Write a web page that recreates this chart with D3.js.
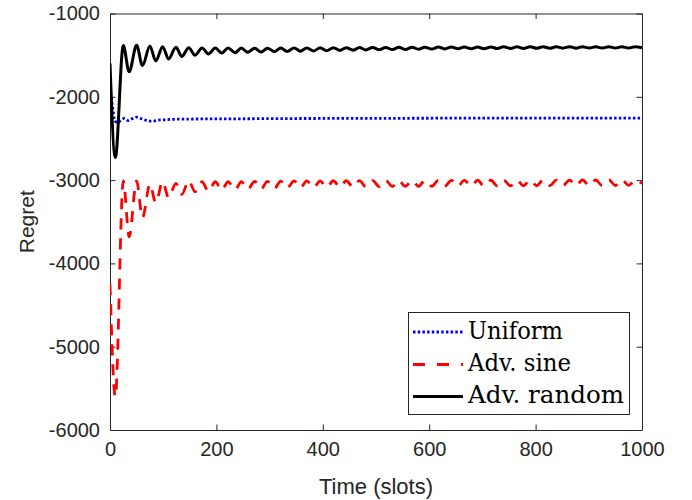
<!DOCTYPE html>
<html>
<head>
<meta charset="utf-8">
<script src="https://cdn.jsdelivr.net/npm/d3@7"></script>
<style>
  body { margin: 0; background: #fff; }
  svg { display: block; }
  .tick text { font-family: "Liberation Sans", Arial, sans-serif; }
</style>
</head>
<body>
<svg id="chart" width="692" height="500"></svg>
<script>
// time slots of the peaks / troughs of the oscillating curves
var slots = [0, 10, 25, 36, 50, 61, 75, 86, 99, 110, 124, 135, 148, 160, 173, 185, 198, 210, 222, 235,
    247, 259, 272, 284, 296, 309, 321, 333, 346, 358, 370, 383, 395, 407, 420, 432, 444, 457, 469, 481,
    494, 506, 518, 531, 543, 555, 568, 580, 592, 605, 617, 629, 642, 654, 666, 679, 691, 703, 716, 728,
    740, 753, 765, 777, 790, 802, 814, 827, 839, 851, 864, 876, 888, 901, 913, 925, 938, 950, 962, 975,
    987, 1000]

var advRandom = [-1600, -2730, -1385, -1700, -1380, -1625, -1390, -1570, -1398, -1545, -1405, -1515,
    -1410, -1500, -1413, -1485, -1415, -1475, -1414, -1470, -1415, -1466, -1416, -1462, -1416, -1458,
    -1415, -1455, -1414, -1452, -1413, -1449, -1412, -1446, -1411, -1443, -1410, -1440, -1409, -1437,
    -1408, -1435, -1407, -1433, -1406, -1431, -1405, -1429, -1404, -1427, -1403, -1425, -1402, -1424,
    -1402, -1423, -1401, -1422, -1401, -1421, -1400, -1420, -1400, -1419, -1399, -1418, -1399, -1417,
    -1399, -1416, -1398, -1416, -1398, -1415, -1398, -1415, -1398, -1414, -1398, -1414, -1398, -1413]

var advSine = [-4250, -5600, -3010, -3680, -3010, -3450, -3050, -3270, -3020, -3210, -3040, -3170,
    -3010, -3140, -3020, -3135, -3020, -3120, -3020, -3115, -3020, -3110, -3015, -3105, -3015, -3100,
    -3012, -3095, -3010, -3092, -3010, -3090, -3010, -3088, -3008, -3085, -3008, -3083, -3006, -3080,
    -3006, -3078, -3005, -3077, -3005, -3076, -3005, -3075, -3004, -3074, -3004, -3073, -3003, -3072,
    -3003, -3071, -3002, -3070, -3002, -3070, -3001, -3069, -3001, -3068, -3000, -3068, -3000, -3067,
    -3000, -3067, -3000, -3066, -2999, -3066, -2999, -3065, -2999, -3065, -2998, -3064, -2998, -3040]

var uniformSlots = [0, 4, 9, 14, 20, 27, 34, 42, 50, 60, 70, 80, 92, 105, 120, 140, 170, 220, 300, 400,
    550, 700, 850, 1000]
var uniform = [-1900, -2080, -2290, -2310, -2285, -2260, -2285, -2262, -2245, -2265, -2285, -2292,
    -2280, -2275, -2270, -2268, -2266, -2265, -2262, -2260, -2258, -2256, -2255, -2255]

var xTicks = [0, 200, 400, 600, 800, 1000]
var yTicks = [-6000, -5000, -4000, -3000, -2000, -1000]
var names = ["Uniform", "Adv. sine", "Adv. random"]

var svg = d3.select("#chart")
var mLeft = 110, mRight = 642, mTop = 13.5, mBottom = 430
var axisColor = "#262626"

var x = d3.scaleLinear().domain([0, 1000]).range([mLeft, mRight])
var y = d3.scaleLinear().domain([-6000, -1000]).range([mBottom, mTop])

// box + inner ticks on all four sides
var tickLen = 5.5
var fmt = d => String(d)
svg.append("g").attr("transform", `translate(0,${mBottom})`)
    .call(d3.axisBottom(x).tickValues(xTicks).tickSizeInner(-tickLen).tickSizeOuter(0).tickPadding(12).tickFormat(fmt))
svg.append("g").attr("transform", `translate(0,${mTop})`)
    .call(d3.axisTop(x).tickValues(xTicks).tickSizeInner(-tickLen).tickSizeOuter(0).tickFormat(""))
svg.append("g").attr("transform", `translate(${mLeft},0)`)
    .call(d3.axisLeft(y).tickValues(yTicks).tickSizeInner(-tickLen).tickSizeOuter(0).tickPadding(10).tickFormat(fmt))
svg.append("g").attr("transform", `translate(${mRight},0)`)
    .call(d3.axisRight(y).tickValues(yTicks).tickSizeInner(-tickLen).tickSizeOuter(0).tickFormat(""))

svg.selectAll(".domain").attr("stroke", axisColor)
svg.selectAll(".tick line").attr("stroke", axisColor)
svg.selectAll(".tick text").attr("fill", axisColor).style("font-size", "20px")

svg.append("clipPath").attr("id", "clip").append("rect")
    .attr("x", mLeft).attr("y", mTop).attr("width", mRight - mLeft).attr("height", mBottom - mTop)

var line = d3.line().curve(d3.curveMonotoneX)
    .x(d => x(d[0]))
    .y(d => y(d[1]))

var plot = svg.append("g").attr("clip-path", "url(#clip)")

plot.append("path")
    .attr("d", line(uniformSlots.map((t, i) => [t, uniform[i]])))
    .attr("fill", "none").attr("stroke", "#0000ff").attr("stroke-width", 2.8)
    .attr("stroke-dasharray", "2.5,2.2")

plot.append("path")
    .attr("d", line(slots.map((t, i) => [t, advSine[i]])))
    .attr("fill", "none").attr("stroke", "#ff0000").attr("stroke-width", 2.8)
    .attr("stroke-dasharray", "11,9")

plot.append("path")
    .attr("d", line(slots.map((t, i) => [t, advRandom[i]])))
    .attr("fill", "none").attr("stroke", "#000000").attr("stroke-width", 3)

// axis labels
svg.append("text")
    .attr("x", (mLeft + mRight) / 2).attr("y", 494)
    .attr("text-anchor", "middle")
    .style("font-family", "Liberation Sans, Arial, sans-serif").style("font-size", "22px")
    .attr("fill", axisColor)
    .text("Time (slots)")

svg.append("text")
    .attr("transform", "translate(34," + ((mTop + mBottom) / 2) + ") rotate(-90)")
    .attr("text-anchor", "middle")
    .style("font-family", "Liberation Sans, Arial, sans-serif").style("font-size", "21px")
    .attr("fill", axisColor)
    .text("Regret")

// legend
var legend = svg.append("g")
legend.append("rect")
    .attr("x", 408.5).attr("y", 312.5).attr("width", 221).attr("height", 102)
    .attr("fill", "#fff").attr("stroke", axisColor).attr("stroke-width", 1)

var legStyles = [
    { color: "#0000ff", dash: "2.5,2.2" },
    { color: "#ff0000", dash: "12,12" },
    { color: "#000000", dash: null }
]
var legY = [332, 364.5, 396.5]
var legWidths = [95, 103, 156]

names.forEach(function (n, i) {
    legend.append("line")
        .attr("x1", 413).attr("x2", 463)
        .attr("y1", legY[i]).attr("y2", legY[i])
        .attr("stroke", legStyles[i].color).attr("stroke-width", 2.8)
        .attr("stroke-dasharray", legStyles[i].dash)
    legend.append("text")
        .attr("x", 468).attr("y", legY[i] + 6.5)
        .attr("textLength", legWidths[i]).attr("lengthAdjust", "spacingAndGlyphs")
        .style("font-family", "DejaVu Serif, serif").style("font-size", "24px")
        .attr("fill", "#000")
        .text(n)
})
</script>
</body>
</html>
